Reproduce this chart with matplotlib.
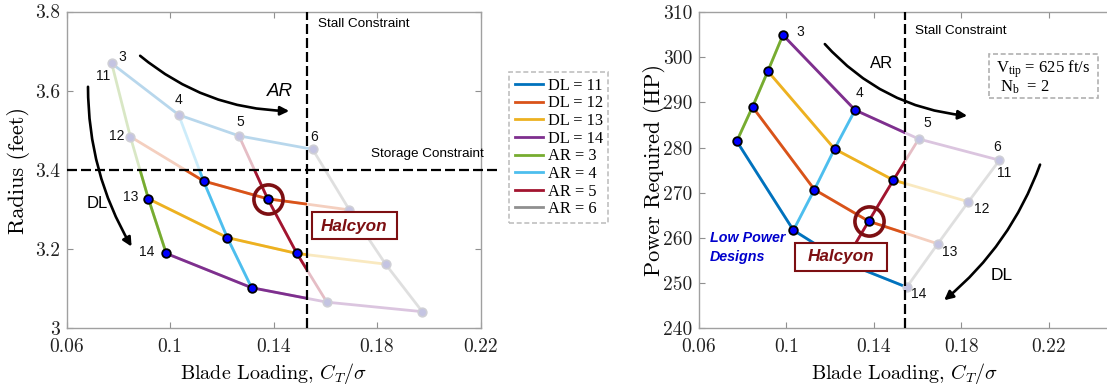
import matplotlib
matplotlib.use("Agg")
import matplotlib.pyplot as plt
import numpy as np
from matplotlib.lines import Line2D
from matplotlib.patches import Rectangle, FancyArrowPatch

# ---------------- data ----------------
disk_loading = [11, 12, 13, 14]
aspect_ratio = [3, 4, 5, 6]

# blade loading C_T/sigma for each DL series, ordered AR = 3, 4, 5, 6
ct_sigma_dl11 = [0.0774, 0.1033, 0.1266, 0.1551]
ct_sigma_dl12 = [0.0846, 0.1129, 0.1377, 0.1693]
ct_sigma_dl13 = [0.0916, 0.1221, 0.1490, 0.1833]
ct_sigma_dl14 = [0.0985, 0.1315, 0.1606, 0.1975]

# rotor radius (ft)
radius_dl11 = [3.669, 3.539, 3.486, 3.452]
radius_dl12 = [3.484, 3.372, 3.327, 3.299]
radius_dl13 = [3.327, 3.229, 3.189, 3.162]
radius_dl14 = [3.189, 3.1025, 3.066, 3.042]

# power required (HP)
power_dl11 = [281.4, 261.7, 254.6, 249.1]
power_dl12 = [289.0, 270.7, 263.7, 258.7]
power_dl13 = [296.9, 279.7, 272.8, 268.0]
power_dl14 = [304.9, 288.3, 281.9, 277.2]

stall_limit_left = 0.153
stall_limit_right = 0.1543
storage_limit = 3.4
halcyon_dl = 12
halcyon_ar = 5

x_ticks = [0.06, 0.1, 0.14, 0.18, 0.22]
x_tick_labels = ["0.06", "0.1", "0.14", "0.18", "0.22"]
radius_ticks = [3.0, 3.2, 3.4, 3.6, 3.8]
radius_tick_labels = ["3", "3.2", "3.4", "3.6", "3.8"]
power_ticks = [240, 250, 260, 270, 280, 290, 300, 310]
power_tick_labels = ["240", "250", "260", "270", "280", "290", "300", "310"]

# point labels as printed in the figure
left_ar_labels = ["3", "4", "5", "6"]          # next to DL=11 points
left_dl_labels = ["11", "12", "13", "14"]      # next to AR=3 points
right_ar_labels = ["3", "4", "5", "6"]         # next to top (DL=14 colour) points
right_dl_labels = ["14", "13", "12", "11"]     # next to AR=6 points, DL11..DL14 series

legend_labels = ["DL = 11", "DL = 12", "DL = 13", "DL = 14",
                 "AR = 3", "AR = 4", "AR = 5", "AR = 6"]

dl_colors = ["#0072BD", "#D95319", "#EDB120", "#7E2F8E"]
ar_colors = ["#77AC30", "#4DBEEE", "#A2142F", "#8f8f8f"]

# ---------------- style ----------------
plt.rcParams["mathtext.fontset"] = "custom"
plt.rcParams["mathtext.rm"] = "Liberation Serif"
plt.rcParams["mathtext.it"] = "Liberation Serif:italic"
plt.rcParams["axes.formatter.use_mathtext"] = True

W, H = 1107, 388
fig = plt.figure(figsize=(W / 100, H / 100), dpi=100)


def fx(px):
    return px / W


def fy(py):
    return 1 - py / H


axL = fig.add_axes([fx(66.7), fy(328.3), (480.5 - 66.7) / W, (328.3 - 11.5) / H])
axR = fig.add_axes([fx(698.7), fy(328.3), (0.19 * 2187.5) / W, (328.3 - 12.0) / H])

X = np.array([ct_sigma_dl11, ct_sigma_dl12, ct_sigma_dl13, ct_sigma_dl14])
R = np.array([radius_dl11, radius_dl12, radius_dl13, radius_dl14])
P = np.array([power_dl11, power_dl12, power_dl13, power_dl14])

LW = 2.0
FADE = 0.28
SANS = "Liberation Sans"
SERIF = "Liberation Serif"
DARKRED = "#7d0f12"
DASH = (0, (4.5, 1.8))


def style_axes(ax, xlim, ylim, yticks, yticklabels, ypad):
    ax.set_xlim(*xlim)
    ax.set_ylim(*ylim)
    ax.set_xticks(x_ticks)
    ax.set_xticklabels(x_tick_labels, family="cmr10", fontsize=14, color="#222222")
    ax.set_yticks(yticks)
    ax.set_yticklabels(yticklabels, family="cmr10", fontsize=14, color="#222222")
    ax.tick_params(axis="both", direction="in", length=4, width=0.8, color="#909090",
                   top=True, right=True)
    ax.tick_params(axis="x", pad=7)
    ax.tick_params(axis="y", pad=ypad)
    for s in ax.spines.values():
        s.set_color("#a0a0a0")
        s.set_linewidth(1.0)


def draw_grid(ax, Y, stall, ymax_ok):
    x0, x1 = ax.get_xlim()
    y0, y1 = ax.get_ylim()
    clip = Rectangle((x0, y0), stall - x0, ymax_ok - y0, transform=ax.transData)
    for i in range(4):
        ax.plot(X[i], Y[i], color=dl_colors[i], lw=LW, alpha=FADE, zorder=2)
        ln, = ax.plot(X[i], Y[i], color=dl_colors[i], lw=LW, zorder=3)
        ln.set_clip_path(clip)
    for j in range(4):
        ax.plot(X[:, j], Y[:, j], color=ar_colors[j], lw=LW, alpha=FADE, zorder=2)
        ln, = ax.plot(X[:, j], Y[:, j], color=ar_colors[j], lw=LW, zorder=3)
        ln.set_clip_path(clip)
    ok = (X < stall) & (Y < ymax_ok)
    ax.plot(X[~ok], Y[~ok], "o", ls="none", ms=6.2, mfc="#c4c4e2", mec="#cfcfd6",
            mew=1.2, zorder=4)
    ax.plot(X[ok], Y[ok], "o", ls="none", ms=6.2, mfc="#0000ff", mec="k",
            mew=1.3, zorder=5)
    hi = disk_loading.index(halcyon_dl)
    hj = aspect_ratio.index(halcyon_ar)
    ax.plot(X[hi, hj], Y[hi, hj], "o", ms=21, mfc="none", mec=DARKRED, mew=2.6, zorder=6)


def point_label(ax, x, y, s, dx, dy, size=10):
    ax.annotate(s, (x, y), xytext=(dx, dy), textcoords="offset pixels",
                ha="center", va="center", family=SANS, fontsize=size, color="#111111",
                zorder=7)


def fig_text(px, py, s, **kw):
    fig.text(fx(px), fy(py), s, **kw)


def fig_arrow(p0, p1, rad):
    a = FancyArrowPatch((fx(p0[0]), fy(p0[1])), (fx(p1[0]), fy(p1[1])),
                        transform=fig.transFigure, connectionstyle=f"arc3,rad={rad}",
                        arrowstyle="-|>", mutation_scale=13, lw=1.9, color="black")
    fig.add_artist(a)


def fig_box(x0, y0, x1, y1, ec, lw, ls="-"):
    r = Rectangle((fx(x0), fy(y1)), (x1 - x0) / W, (y1 - y0) / H, transform=fig.transFigure,
                  fc="white", ec=ec, lw=lw, ls=ls, zorder=8)
    fig.add_artist(r)


# ---------------- left panel ----------------
style_axes(axL, (0.06, 0.22), (3.0, 3.8), radius_ticks, radius_tick_labels, 5)
draw_grid(axL, R, stall_limit_left, storage_limit)
axL.axvline(stall_limit_left, color="black", lw=1.6, ls=DASH, zorder=6)
axL.plot([0.06, 0.2276], [storage_limit, storage_limit], color="black", lw=1.6,
         ls=DASH, clip_on=False, zorder=6)

offL_ar = [(11, 6), (0, 15), (1, 14), (1, 12)]
for j in range(4):
    point_label(axL, X[0, j], R[0, j], left_ar_labels[j], *offL_ar[j])
offL_dl = [(-9, -13), (-13.5, 1), (-18, 2), (-19.5, 1)]
for i in range(4):
    point_label(axL, X[i, 0], R[i, 0], left_dl_labels[i], *offL_dl[i])

fig_text(318.3, 24, "Stall Constraint", family=SANS, fontsize=9.7, ha="left", va="center")
fig_text(371, 154, "Storage Constraint", family=SANS, fontsize=9.7, ha="left", va="center")
fig_text(280, 91, "AR", family=SANS, fontsize=13.5, style="italic", ha="center", va="center")
fig_text(97, 203, "DL", family=SANS, fontsize=12, ha="center", va="center")
fig_arrow((138, 54), (292, 111), 0.18)
fig_arrow((88, 84), (133, 249), 0.14)

fig_box(311.7, 211.7, 397.3, 239.3, DARKRED, 1.5)
fig_text(354.5, 226, "Halcyon", family=SANS, fontsize=12.3, weight="bold", style="italic",
         color=DARKRED, ha="center", va="center", zorder=9)

fig_text(18, 170, "Radius (feet)", family="cmr10", fontsize=16, rotation=90,
         ha="center", va="center")
fig_text(273.6, 374, r"Blade Loading, $C_T/\sigma$", family="cmr10", fontsize=14.5,
         ha="center", va="center", math_fontfamily="cm")

# legend
handles = [Line2D([], [], color=c, lw=2) for c in dl_colors + ar_colors]
leg = fig.legend(handles, legend_labels, loc="upper left",
                 bbox_to_anchor=(fx(509), fy(72)), borderaxespad=0,
                 prop={"family": SERIF, "size": 11.8}, frameon=True, fancybox=False,
                 handlelength=1.75, handletextpad=0.25, labelspacing=0.1,
                 borderpad=0.35)
fr = leg.get_frame()
fr.set_edgecolor("#b0b0b0")
fr.set_linestyle((0, (3, 1.6)))
fr.set_linewidth(1.2)

# ---------------- right panel ----------------
style_axes(axR, (0.06, 0.25), (240, 310), power_ticks, power_tick_labels, 4.5)
draw_grid(axR, P, stall_limit_right, 1e9)
axR.axvline(stall_limit_right, color="black", lw=1.6, ls=DASH, zorder=6)

offR_ar = [(17, 3), (4, 17), (9, 16), (-2, 13)]
for j in range(4):
    point_label(axR, X[3, j], P[3, j], right_ar_labels[j], *offR_ar[j])
offR_dl = [(12, -7), (12, -8), (13, -7), (5, -13)]
for i in range(4):
    point_label(axR, X[i, 3], P[i, 3], right_dl_labels[i], *offR_dl[i])

fig_text(915, 31, "Stall Constraint", family=SANS, fontsize=9.7, ha="left", va="center")
fig_text(882, 63, "AR", family=SANS, fontsize=12, ha="center", va="center")
fig_text(1002, 276, "DL", family=SANS, fontsize=12.5, ha="center", va="center")
fig_arrow((823, 42), (970, 116), 0.2)
fig_arrow((1041, 162), (942, 302), -0.14)

fig_box(795, 242.7, 886.7, 270.7, DARKRED, 1.5)
fig_text(840.8, 257, "Halcyon", family=SANS, fontsize=12.3, weight="bold", style="italic",
         color=DARKRED, ha="center", va="center", zorder=9)

fig_text(710, 238.5, "Low Power", family=SANS, fontsize=10.3, weight="bold", style="italic",
         color="#0000cc", ha="left", va="center")
fig_text(710, 256.5, "Designs", family=SANS, fontsize=10.3, weight="bold", style="italic",
         color="#0000cc", ha="left", va="center")

fig_box(989.3, 54, 1098, 98, "#b0b0b0", 1.2, ls=(0, (3, 1.6)))
fig_text(996.5, 69, r"V$_{\mathrm{tip}}$ = 625 ft/s", family=SERIF, fontsize=12,
         ha="left", va="center", zorder=9)
fig_text(1000, 87, r"N$_{\mathrm{b}}$  = 2", family=SERIF, fontsize=12,
         ha="left", va="center", zorder=9)

fig_text(654, 170, "Power Required (HP)", family="cmr10", fontsize=16, rotation=90,
         ha="center", va="center")
fig_text(905, 374, r"Blade Loading, $C_T/\sigma$", family="cmr10", fontsize=14.5,
         ha="center", va="center", math_fontfamily="cm")

fig.savefig("out.png", dpi=100)
